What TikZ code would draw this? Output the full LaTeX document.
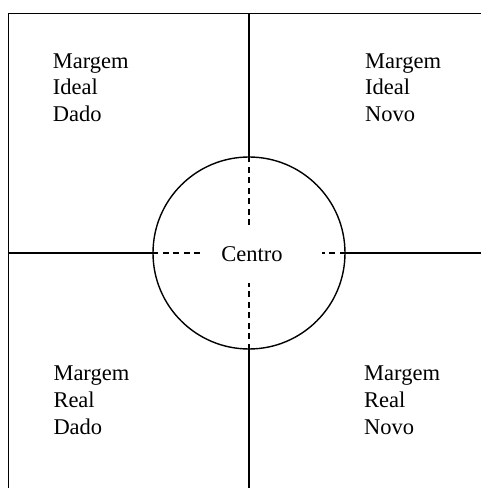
\documentclass[tikz,border=0pt]{standalone}
\usepackage{fontspec}
\setmainfont{Liberation Serif}
\begin{document}
\begin{tikzpicture}[x=1pt,y=1pt,
  solidline/.style={line width=1.4pt},
  dashline/.style={line width=1.2pt, dash pattern=on 6pt off 4.5pt},
  lbl/.style={anchor=base west, inner sep=0pt, font=\fontsize{22.5}{27}\selectfont},
  ctr/.style={anchor=base, inner sep=0pt, font=\fontsize{22.5}{27}\selectfont}]
\useasboundingbox (0,0) rectangle (481,488);
\coordinate (tl) at (8.5,474.5);
\coordinate (bl) at (8.5,0);
\coordinate (tr) at (481,474.5);
\coordinate (lm) at (8.5,235);
\coordinate (rm) at (481,235);
\coordinate (tm) at (249,474.5);
\coordinate (bm) at (249,0);
\node[circle, draw, line width=1.4pt, minimum size=192pt, inner sep=0pt] (c) at (249,235) {};
\draw[solidline] (bl) -- (tl) -- (tr);
\draw[solidline] (lm) -- (c.west);
\draw[solidline] (c.east) -- (rm);
\draw[solidline] (tm) -- (c.north);
\draw[solidline] (c.south) -- (bm);
\coordinate (dn) at (249,260);
\coordinate (ds) at (249,205);
\coordinate (dw) at (200,235);
\coordinate (de) at (322,235);
\draw[dashline] (c.north) -- (dn);
\draw[dashline] (c.south) -- (ds);
\draw[dashline] (c.west) -- (dw);
\draw[dashline] (c.east) -- (de);
\node[ctr] (centro) at (252,226) {Centro};
% top left
\node[lbl] (tl1) at (52.7,419.7) {Margem};
\node[lbl] (tl2) at (52.7,393) {Ideal};
\node[lbl] (tl3) at (52.7,366.3) {Dado};
% top right
\node[lbl] (tr1) at (365,419.7) {Margem};
\node[lbl] (tr2) at (365,393) {Ideal};
\node[lbl] (tr3) at (365,366.3) {Novo};
% bottom left
\node[lbl] (bl1) at (53.3,107) {Margem};
\node[lbl] (bl2) at (53.3,80) {Real};
\node[lbl] (bl3) at (53.3,53) {Dado};
% bottom right
\node[lbl] (br1) at (364,107) {Margem};
\node[lbl] (br2) at (364,80) {Real};
\node[lbl] (br3) at (364,53) {Novo};
\end{tikzpicture}
\end{document}
